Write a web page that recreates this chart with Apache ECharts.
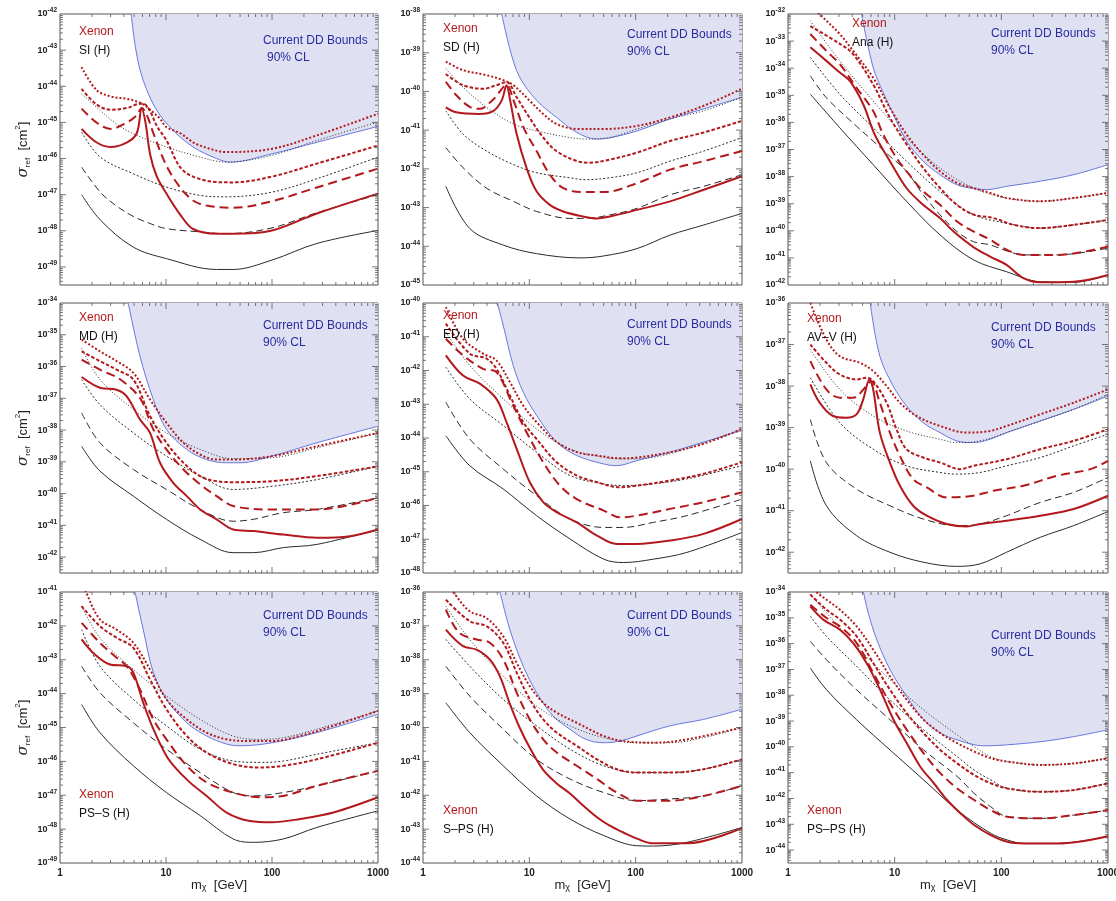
<!DOCTYPE html>
<html>
<head>
<meta charset="utf-8">
<script src="https://cdn.jsdelivr.net/npm/echarts@6/dist/echarts.min.js"></script>
<style>
  html, body { margin: 0; padding: 0; background: #fff; }
  #main { width: 1116px; height: 901px; }
</style>
</head>
<body>
<div id="main"></div>
<script>
// Xenon projected limits, 9 operators. points are [m_chi in GeV, log10 sigma_ref in cm^2]

// tick labels on the mass axis
const massTicks = [1, 10, 100, 1000];
const panelNames = ['SI (H)', 'SD (H)', 'Ana (H)', 'MD (H)', 'ED (H)', 'AV\u2013V (H)', 'PS\u2013S (H)', 'S\u2013PS (H)', 'PS\u2013PS (H)'];
// y range of each panel, in decades
const yLow = [-49.5, -45, -42, -42.5, -48, -42.5, -49, -44, -44.5];
const yHigh = [-42, -38, -32, -34, -40, -36, -41, -36, -34];

// ---- SI
const siRedDot = [[1.6,-43.47],[2.2,-44.1],[3,-44.28],[4.3,-44.35],[5.3,-44.42],[6.1,-44.5],[7.1,-44.65],[8.8,-44.9],[10.1,-45.13],[13.6,-45.3],[18,-45.55],[24,-45.7],[37,-45.82],[100,-45.73],[265,-45.36],[1000,-44.76]];
const siRedShort = [[1.6,-44.07],[2.2,-44.5],[3,-44.65],[4.3,-44.6],[5.3,-44.5],[6.1,-44.48],[7.1,-44.7],[8.2,-45.1],[10.1,-45.5],[13.6,-46.24],[18,-46.5],[30,-46.65],[43,-46.66],[100,-46.5],[265,-46.14],[1000,-45.64]];
const siRedLong = [[1.6,-44.62],[2.2,-45.0],[3,-45.18],[4.3,-45.0],[5.3,-44.8],[5.9,-44.6],[6.6,-44.8],[7.6,-45.3],[10.1,-46.2],[13.6,-46.8],[18,-47.16],[24,-47.3],[43,-47.36],[100,-47.18],[265,-46.8],[1000,-46.28]];
const siRedSolid = [[1.6,-45.18],[2.2,-45.55],[3,-45.68],[4.3,-45.55],[5.3,-45.3],[5.9,-44.6],[6.4,-45.0],[7.1,-45.9],[8.2,-46.5],[10.1,-46.97],[13.6,-47.55],[18,-47.95],[30,-48.08],[43,-48.08],[100,-47.99],[265,-47.52],[1000,-46.97]];
const siBlkFine = [[1.6,-44.21],[2.4,-44.67],[3.4,-45.04],[4.9,-45.31],[10.1,-45.68],[21,-45.96],[37,-46.1],[100,-45.91],[265,-45.5],[1000,-44.99]];
const siBlkDot = [[1.6,-45.27],[2.4,-45.96],[4.9,-46.42],[10.1,-46.79],[21,-47.02],[37,-47.06],[100,-46.93],[265,-46.56],[1000,-45.96]];
const siBlkDash = [[1.6,-46.24],[2.4,-46.93],[3.4,-47.31],[4.9,-47.6],[7.1,-47.8],[10.1,-47.94],[21,-48.03],[37,-48.08],[100,-47.92],[265,-47.5],[1000,-47.0]];
const siBlkSolid = [[1.6,-47.0],[2.4,-47.7],[4.9,-48.45],[10.1,-48.77],[30,-49.07],[43,-49.07],[100,-48.81],[265,-48.35],[1000,-47.99]];
const siBound = [[4.7,-42],[5.2,-43],[6.1,-43.84],[8.2,-44.67],[11.7,-45.22],[18,-45.68],[30,-46.0],[40,-46.1],[100,-45.87],[265,-45.55],[1000,-45.11]];

// ---- SD
const sdRedDot = [[1.64,-39.23],[2.38,-39.45],[3.96,-39.58],[5.7,-39.71],[7.1,-39.84],[10,-40.23],[13.5,-40.58],[18,-40.84],[28,-40.97],[50,-40.97],[103,-40.89],[211,-40.67],[437,-40.37],[1000,-39.93]];
const sdRedShort = [[1.64,-39.55],[2.38,-39.84],[3.7,-39.93],[4.9,-39.84],[6.1,-39.76],[7.6,-40.15],[10,-40.67],[13.5,-41.19],[18,-41.54],[28,-41.8],[37,-41.84],[57,-41.76],[103,-41.58],[211,-41.28],[437,-41.06],[1000,-40.76]];
const sdRedLong = [[1.64,-39.75],[2.06,-40.1],[2.75,-40.4],[3.4,-40.45],[4.6,-40.2],[6.1,-39.84],[7.1,-40.23],[8.8,-40.93],[11.7,-41.54],[15.6,-42.15],[20.9,-42.5],[32,-42.6],[50,-42.6],[103,-42.37],[211,-42.02],[437,-41.8],[1000,-41.54]];
const sdRedSolid = [[1.64,-40.41],[2.06,-40.54],[3.4,-40.58],[4.6,-40.5],[5.5,-40.23],[6.1,-39.84],[6.6,-40.23],[7.6,-41.1],[9.4,-41.97],[11.7,-42.58],[15.6,-42.93],[20.9,-43.1],[32,-43.23],[43,-43.28],[57,-43.23],[103,-43.06],[211,-42.84],[437,-42.54],[1000,-42.19]];
const sdBlkFine = [[1.64,-39.41],[2.38,-39.89],[3.96,-40.41],[7.1,-40.84],[11.7,-41.02],[24,-41.19],[34,-41.23],[57,-41.19],[103,-40.97],[211,-40.71],[437,-40.5],[1000,-40.15]];
const sdBlkDot = [[1.64,-40.5],[2.38,-41.1],[3.96,-41.54],[7.1,-41.89],[11.7,-42.1],[24,-42.23],[34,-42.28],[57,-42.23],[103,-42.1],[211,-41.8],[437,-41.54],[1000,-41.19]];
const sdBlkDash = [[1.64,-41.45],[2.38,-41.97],[3.96,-42.5],[7.1,-42.84],[11.7,-43.1],[24,-43.28],[34,-43.28],[57,-43.19],[103,-43.02],[211,-42.67],[437,-42.45],[1000,-42.15]];
const sdBlkSolid = [[1.64,-42.45],[2.75,-43.54],[5.7,-43.97],[11.7,-44.19],[30,-44.3],[50,-44.25],[103,-44.06],[211,-43.71],[437,-43.45],[1000,-43.15]];
const sdBound = [[5.5,-38],[6.6,-38.93],[8.1,-39.63],[11.7,-40.23],[18,-40.67],[28,-41.06],[43,-41.23],[57,-41.2],[103,-41.02],[211,-40.71],[437,-40.45],[1000,-40.15]];

// ---- Ana
const anaRedDot = [[1.62,-31.6],[1.98,-32.0],[3.06,-32.74],[4.08,-33.36],[6.29,-34.35],[9.02,-35.46],[12.9,-36.44],[18.5,-37.19],[26.6,-37.8],[38.2,-38.23],[54.7,-38.42],[78.5,-38.6],[112,-38.79],[232,-38.91],[476,-38.79],[1000,-38.6]];
const anaRedShort = [[1.62,-32.45],[3.06,-33.1],[4.08,-33.48],[6.29,-34.6],[9.02,-35.83],[12.9,-36.8],[18.5,-37.68],[26.6,-38.42],[38.2,-39.04],[54.7,-39.4],[84.4,-39.53],[130,-39.78],[232,-39.9],[476,-39.78],[1000,-39.6]];
const anaRedLong = [[1.62,-32.74],[2.29,-33.36],[3.06,-33.85],[4.39,-34.72],[6.29,-35.58],[7.8,-36.44],[10.4,-37.31],[12.9,-37.8],[18.5,-38.54],[26.6,-39.04],[38.2,-39.65],[54.7,-40.02],[78.5,-40.33],[112,-40.7],[161,-40.89],[332,-40.89],[1000,-40.58]];
const anaRedSolid = [[1.62,-33.23],[2.29,-33.73],[3.06,-34.16],[3.8,-34.47],[5.07,-35.33],[6.29,-36.32],[7.26,-36.81],[9.02,-37.43],[12.9,-38.42],[18.5,-39.04],[26.6,-39.53],[35.5,-40.02],[54.7,-40.6],[78.5,-40.95],[112,-41.26],[161,-41.75],[232,-41.9],[476,-41.88],[1000,-41.63]];
const anaBlkFine = [[1.62,-32.25],[3.06,-33.73],[6.29,-35.21],[12.9,-36.57],[26.6,-37.68],[54.7,-38.42],[112,-38.79],[232,-38.91],[476,-38.79],[1000,-38.6]];
const anaBlkDot = [[1.62,-33.6],[3.06,-34.96],[6.29,-36.2],[12.9,-37.43],[26.6,-38.54],[54.7,-39.4],[112,-39.72],[232,-39.9],[476,-39.78],[1000,-39.6]];
const anaBlkDash = [[1.62,-34.28],[2.29,-35.09],[4.39,-36.14],[6.29,-36.69],[9.02,-37.25],[12.9,-37.8],[18.5,-38.67],[26.6,-39.41],[38.2,-40.02],[54.7,-40.4],[78.5,-40.52],[112,-40.74],[161,-40.89],[332,-40.89],[1000,-40.64]];
const anaBlkSolid = [[1.62,-34.96],[3.06,-36.2],[6.29,-37.56],[12.9,-38.91],[26.6,-40.15],[54.7,-41.07],[112,-41.51],[232,-41.88],[476,-41.9],[1000,-41.63]];
const anaBound = [[4.89,-32],[6.29,-33.98],[7.8,-34.9],[9.7,-35.7],[12.9,-36.69],[18.5,-37.43],[26.6,-37.93],[38.2,-38.3],[54.7,-38.44],[73,-38.48],[112,-38.36],[232,-38.17],[476,-37.93],[1000,-37.56]];

// ---- MD
const mdRedDot = [[1.6,-35.15],[2.38,-35.52],[3.42,-35.83],[4.92,-36.2],[7.07,-37.04],[10.1,-37.77],[14.6,-38.4],[21,-38.77],[30,-38.93],[43,-38.93],[100,-38.82],[265,-38.51],[1000,-38.09]];
const mdRedShort = [[1.6,-35.52],[2.38,-35.83],[3.42,-36.1],[4.92,-36.41],[7.07,-37.56],[10.1,-38.4],[14.6,-39.03],[21,-39.45],[30,-39.61],[43,-39.64],[100,-39.61],[265,-39.45],[1000,-39.14]];
const mdRedLong = [[1.6,-35.78],[2.38,-36.1],[3.68,-36.4],[5.69,-37.0],[7.6,-37.98],[10.1,-38.61],[14.6,-39.24],[21,-39.71],[30,-40.08],[43,-40.39],[100,-40.5],[265,-40.5],[1000,-40.13]];
const mdRedSolid = [[1.6,-36.33],[2.38,-36.67],[3.42,-36.73],[4.26,-36.94],[5.69,-37.67],[7.07,-38.09],[8.78,-39.03],[11.7,-39.66],[15.7,-40.08],[21,-40.5],[30,-40.81],[43,-41.13],[66.7,-41.18],[128,-41.29],[265,-41.39],[545,-41.34],[1000,-41.13]];
const mdBlkFine = [[1.6,-35.42],[2.38,-36.41],[4.92,-37.35],[10.1,-38.09],[21,-38.61],[43,-38.9],[100,-38.87],[265,-38.56],[1000,-38.09]];
const mdBlkDot = [[1.6,-36.41],[2.38,-37.2],[4.92,-38.09],[10.1,-38.82],[21,-39.45],[43,-39.87],[100,-39.77],[265,-39.56],[1000,-39.14]];
const mdBlkDash = [[1.6,-37.46],[2.38,-38.4],[4.92,-39.24],[10.1,-39.87],[21,-40.5],[43,-40.87],[66.7,-40.81],[128,-40.6],[265,-40.5],[1000,-40.13]];
const mdBlkSolid = [[1.6,-38.51],[2.38,-39.29],[4.92,-40.08],[10.1,-40.81],[21,-41.44],[43,-41.86],[66.7,-41.86],[128,-41.7],[265,-41.6],[1000,-41.13]];
const mdBound = [[4.4,-34],[5.69,-35.68],[7.6,-37.04],[10.1,-37.98],[15.7,-38.61],[24.2,-38.93],[37.3,-39.03],[49.9,-39.03],[100,-38.82],[265,-38.4],[1000,-37.88]];

// ---- ED
const edRedDot = [[1.64,-40.12],[2.38,-41.06],[3.67,-41.5],[4.9,-41.7],[6.56,-42.34],[8.76,-43.04],[11.7,-43.53],[18.1,-44.12],[27.9,-44.42],[43.3,-44.52],[71.2,-44.6],[102.5,-44.58],[211,-44.42],[436,-44.17],[1000,-43.73]];
const edRedShort = [[1.64,-40.61],[2.75,-41.5],[3.96,-41.65],[4.9,-41.95],[6.56,-42.74],[8.76,-43.53],[11.7,-44.03],[18.1,-44.72],[27.9,-45.11],[43.3,-45.31],[71.2,-45.46],[102.5,-45.41],[211,-45.26],[436,-45.06],[1000,-44.72]];
const edRedLong = [[1.64,-41.06],[2.38,-41.55],[3.67,-41.95],[4.9,-42.05],[7.05,-43.04],[9.42,-43.83],[13.5,-44.72],[19.4,-45.41],[27.9,-45.81],[50.1,-46.15],[71.2,-46.35],[102.5,-46.3],[211,-46.1],[436,-45.9],[1000,-45.61]];
const edRedSolid = [[1.64,-41.55],[2.38,-42.15],[3.42,-42.39],[4.9,-42.84],[6.1,-43.53],[7.6,-44.32],[10.1,-45.31],[13.5,-45.9],[18.1,-46.2],[27.9,-46.5],[43.3,-46.89],[66.3,-47.14],[102.5,-47.14],[211,-47.04],[436,-46.84],[1000,-46.4]];
const edBlkFine = [[1.64,-40.86],[2.75,-41.85],[5.68,-42.84],[11.7,-43.73],[24.1,-44.32],[50.1,-44.57],[76.6,-44.62],[147,-44.57],[303,-44.32],[1000,-43.73]];
const edBlkDot = [[1.64,-41.9],[2.75,-42.84],[5.68,-43.63],[11.7,-44.42],[24.1,-45.11],[50.1,-45.36],[76.6,-45.41],[147,-45.36],[303,-45.21],[1000,-44.82]];
const edBlkDash = [[1.64,-42.94],[2.75,-44.03],[5.68,-44.92],[11.7,-45.71],[24.1,-46.4],[50.1,-46.65],[76.6,-46.65],[147,-46.5],[303,-46.3],[1000,-45.81]];
const edBlkSolid = [[1.64,-43.93],[2.75,-44.82],[5.68,-45.51],[11.7,-46.3],[24.1,-46.99],[50.1,-47.59],[76.6,-47.69],[147,-47.59],[303,-47.39],[1000,-46.8]];
const edBound = [[5.0,-40],[5.68,-40.66],[7.05,-41.85],[8.76,-42.64],[11.7,-43.33],[18.1,-44.12],[27.9,-44.52],[50.1,-44.77],[66.3,-44.82],[102.5,-44.67],[211,-44.42],[436,-44.12],[1000,-43.78]];

// ---- AV-V
const avRedDot = [[1.62,-36.0],[2.29,-36.88],[3.06,-37.28],[4.71,-37.44],[6.29,-37.64],[8.4,-38.0],[11.2,-38.4],[16,-38.72],[26.6,-38.96],[47.4,-39.12],[78.5,-39.08],[112,-38.96],[232,-38.68],[476,-38.4],[1000,-38.08]];
const avRedShort = [[1.62,-37.0],[2.29,-37.44],[3.06,-37.72],[4.39,-37.84],[5.44,-37.8],[6.29,-37.88],[8.4,-38.4],[10.4,-39.04],[12.9,-39.52],[18.5,-39.72],[26.6,-39.84],[41,-40.0],[54.7,-39.92],[112,-39.76],[232,-39.52],[476,-39.32],[1000,-39.04]];
const avRedLong = [[1.62,-37.4],[2.29,-38.08],[3.06,-38.28],[4.08,-38.28],[5.44,-38.0],[6.0,-37.88],[7.26,-38.4],[9.02,-39.12],[11.2,-39.68],[14.9,-40.24],[20,-40.44],[30.7,-40.68],[54.7,-40.64],[84.4,-40.52],[161,-40.4],[332,-40.16],[683,-40.0],[1000,-39.8]];
const avRedSolid = [[1.62,-37.96],[1.98,-38.4],[2.64,-38.72],[3.5,-38.76],[4.39,-38.68],[5.07,-38.32],[5.8,-37.84],[6.29,-38.08],[7.26,-39.12],[9.02,-39.84],[11.2,-40.4],[14.9,-40.88],[20,-41.12],[30.7,-41.32],[47.4,-41.38],[63.1,-41.32],[112,-41.24],[232,-41.12],[476,-40.96],[1000,-40.64]];
const avBlkFine = [[1.62,-37.12],[3.06,-38.08],[6.29,-38.72],[12.9,-39.08],[26.6,-39.28],[38.2,-39.36],[63.1,-39.32],[112,-39.12],[232,-38.84],[476,-38.56],[1000,-38.2]];
const avBlkDot = [[1.62,-37.8],[3.06,-38.88],[6.29,-39.52],[12.9,-39.92],[26.6,-40.08],[38.2,-40.12],[63.1,-40.08],[112,-39.92],[232,-39.72],[476,-39.44],[1000,-39.16]];
const avBlkDash = [[1.62,-38.8],[2.29,-39.84],[4.39,-40.48],[9.02,-40.88],[18.5,-41.2],[38.2,-41.36],[63.1,-41.32],[112,-41.12],[232,-40.8],[476,-40.56],[1000,-40.2]];
const avBlkSolid = [[1.62,-39.8],[2.29,-40.88],[4.39,-41.6],[9.02,-42.0],[18.5,-42.24],[38.2,-42.34],[63.1,-42.28],[112,-42.0],[232,-41.64],[476,-41.36],[1000,-41.02]];
const avBound = [[5.9,-36],[7.26,-37.28],[9.7,-38.0],[12.9,-38.48],[18.5,-38.88],[26.6,-39.12],[38.2,-39.32],[54.7,-39.36],[78.5,-39.28],[112,-39.12],[232,-38.84],[476,-38.56],[1000,-38.24]];

// ---- PS-S
const psRedDot = [[1.6,-40.6],[1.76,-41.0],[2.38,-41.81],[3.42,-42.11],[4.92,-42.5],[7.07,-43.29],[10.1,-44.17],[15.7,-44.76],[24.2,-45.15],[37.3,-45.35],[62,-45.4],[100,-45.4],[184,-45.25],[380,-44.95],[1000,-44.51]];
const psRedShort = [[1.6,-41.42],[2.38,-42.01],[3.42,-42.35],[4.92,-42.65],[7.07,-43.58],[10.1,-44.46],[15.7,-45.25],[24.2,-45.74],[43,-46.08],[77,-46.18],[128,-46.13],[265,-45.94],[1000,-45.45]];
const psRedLong = [[1.6,-41.91],[2.38,-42.5],[3.42,-42.94],[4.26,-43.19],[5.69,-43.88],[7.6,-44.76],[10.1,-45.35],[15.7,-46.13],[24.2,-46.62],[43,-46.92],[77,-47.06],[128,-47.02],[265,-46.72],[1000,-46.28]];
const psRedSolid = [[1.6,-42.4],[2.06,-42.8],[2.96,-43.14],[4.26,-43.19],[4.92,-43.38],[6.1,-44.27],[7.6,-45.05],[10.1,-45.84],[12.6,-46.23],[16.8,-46.62],[24.2,-47.02],[37.3,-47.51],[62,-47.76],[100,-47.8],[184,-47.7],[380,-47.51],[1000,-47.06]];
const psBlkFine = [[1.6,-41.42],[2.38,-42.35],[4.92,-43.29],[10.1,-44.07],[21,-44.76],[43,-45.25],[77,-45.35],[128,-45.3],[265,-45.05],[1000,-44.51]];
const psBlkDot = [[1.6,-42.11],[2.38,-43.19],[4.92,-44.17],[10.1,-44.95],[21,-45.64],[43,-45.99],[77,-46.03],[128,-45.99],[265,-45.79],[1000,-45.45]];
const psBlkDash = [[1.6,-43.19],[2.38,-43.97],[4.92,-44.86],[10.1,-45.64],[21,-46.33],[43,-46.92],[66.7,-47.02],[128,-46.92],[265,-46.72],[1000,-46.28]];
const psBlkSolid = [[1.6,-44.32],[2.38,-45.15],[4.92,-46.13],[10.1,-46.92],[21,-47.6],[43,-48.29],[66.7,-48.39],[128,-48.29],[265,-47.95],[1000,-47.46]];
const psBound = [[5.1,-41],[6.1,-42.11],[7.6,-43.38],[10.1,-44.17],[15.7,-44.86],[24.2,-45.25],[37.3,-45.49],[49.9,-45.54],[100,-45.45],[265,-45.15],[1000,-44.61]];

// ---- S-PS
const spRedDot = [[1.75,-35.8],[1.92,-36.0],[2.75,-36.57],[3.96,-36.77],[5.68,-37.31],[7.6,-38.09],[10.1,-38.78],[13.5,-39.27],[18.1,-39.56],[27.9,-39.86],[50.1,-40.25],[76.6,-40.4],[147,-40.45],[303,-40.35],[1000,-40.0]];
const spRedShort = [[1.64,-36.23],[2.75,-36.86],[3.96,-37.01],[5.68,-37.5],[7.6,-38.38],[10.1,-39.17],[13.5,-39.76],[18.1,-40.15],[27.9,-40.54],[43.3,-40.94],[66.3,-41.23],[102.5,-41.33],[211,-41.33],[436,-41.23],[1000,-40.94]];
const spRedLong = [[1.64,-36.52],[2.2,-37.21],[3.18,-37.4],[4.25,-37.5],[5.68,-37.99],[7.6,-38.97],[10.1,-39.76],[13.5,-40.35],[18.1,-40.74],[27.9,-41.13],[43.3,-41.52],[66.3,-41.92],[102.5,-42.16],[211,-42.16],[436,-42.02],[1000,-41.72]];
const spRedSolid = [[1.64,-37.11],[2.38,-37.6],[3.18,-37.7],[4.25,-37.99],[5.3,-38.5],[6.56,-39.3],[8.1,-40.0],[10.1,-40.6],[13.5,-41.25],[18.1,-41.65],[24.1,-41.95],[32,-42.3],[43.3,-42.65],[57,-42.9],[76.6,-43.1],[102.5,-43.28],[147,-43.42],[303,-43.42],[1000,-42.97]];
const spBlkFine = [[1.64,-36.42],[2.75,-37.4],[5.68,-38.48],[11.7,-39.37],[24.1,-39.95],[50.1,-40.3],[102.5,-40.45],[211,-40.45],[436,-40.3],[1000,-40.0]];
const spBlkDot = [[1.64,-37.4],[2.75,-38.19],[5.68,-39.17],[11.7,-39.95],[24.1,-40.64],[50.1,-41.13],[102.5,-41.33],[211,-41.33],[436,-41.23],[1000,-40.94]];
const spBlkDash = [[1.64,-38.19],[2.75,-39.07],[5.68,-40.05],[11.7,-40.94],[24.1,-41.52],[50.1,-41.92],[102.5,-42.16],[211,-42.11],[436,-42.02],[1000,-41.72]];
const spBlkSolid = [[1.64,-39.27],[2.75,-40.15],[5.68,-41.13],[11.7,-42.02],[24.1,-42.7],[50.1,-43.19],[102.5,-43.49],[147,-43.5],[303,-43.39],[1000,-42.95]];
const spBound = [[5.3,-36],[6.56,-37.11],[8.76,-38.19],[11.7,-38.97],[16.7,-39.66],[24.1,-40.05],[34,-40.35],[50.1,-40.45],[71.2,-40.4],[102.5,-40.25],[211,-39.95],[436,-39.76],[1000,-39.46]];

// ---- PS-PS
const ppRedDot = [[1.62,-33.6],[1.85,-34.0],[2.3,-34.3],[3.07,-34.69],[4.4,-35.33],[6.31,-36.24],[9.05,-37.27],[13,-38.18],[18.7,-38.95],[26.8,-39.47],[38.6,-39.86],[55.6,-40.18],[79.5,-40.44],[114,-40.57],[235,-40.7],[484,-40.64],[1000,-40.44]];
const ppRedShort = [[1.62,-34.1],[2.3,-34.69],[3.07,-35.07],[4.4,-35.72],[6.31,-36.76],[9.05,-37.79],[13,-38.7],[18.7,-39.47],[26.8,-40.12],[38.6,-40.64],[55.6,-41.09],[79.5,-41.41],[114,-41.61],[235,-41.74],[484,-41.67],[1000,-41.41]];
const ppRedLong = [[1.62,-34.49],[2.3,-35.01],[3.07,-35.33],[4.4,-35.98],[6.31,-37.14],[9.05,-38.31],[13,-39.34],[18.7,-40.25],[26.8,-41.02],[38.6,-41.61],[55.6,-42.06],[79.5,-42.45],[114,-42.71],[235,-42.77],[484,-42.64],[1000,-42.45]];
const ppRedSolid = [[1.62,-34.56],[2.14,-35.07],[3.07,-35.46],[4.09,-35.98],[5.47,-36.76],[7.3,-37.79],[9.75,-38.95],[13,-39.86],[17.4,-40.77],[23.3,-41.41],[31,-42.06],[41.5,-42.58],[55.6,-43.03],[79.5,-43.42],[114,-43.68],[163,-43.74],[336,-43.74],[1000,-43.46]];
const ppBlkFine = [[1.62,-34.1],[2.3,-34.81],[4.4,-36.11],[9.05,-37.4],[18.7,-38.57],[38.6,-39.54],[55.6,-39.99],[79.5,-40.38],[114,-40.57],[235,-40.7],[484,-40.64],[1000,-40.44]];
const ppBlkDot = [[1.62,-34.94],[2.3,-35.72],[4.4,-36.88],[9.05,-38.18],[18.7,-39.34],[38.6,-40.38],[55.6,-40.9],[79.5,-41.28],[114,-41.61],[235,-41.74],[484,-41.67],[1000,-41.41]];
const ppBlkDash = [[1.62,-35.91],[2.3,-36.63],[4.4,-37.79],[9.05,-38.95],[18.7,-40.12],[38.6,-41.15],[55.6,-41.8],[79.5,-42.32],[114,-42.71],[235,-42.77],[484,-42.64],[1000,-42.45]];
const ppBlkSolid = [[1.62,-36.95],[2.3,-37.79],[4.4,-38.95],[9.05,-40.12],[18.7,-41.28],[38.6,-42.45],[79.5,-43.35],[114,-43.61],[163,-43.74],[336,-43.74],[1000,-43.46]];
const ppBound = [[5.1,-34],[5.66,-34.82],[6.8,-35.85],[9.05,-37.01],[13,-38.05],[18.7,-38.95],[26.8,-39.47],[38.6,-39.73],[55.6,-39.92],[73.9,-39.96],[114,-39.92],[235,-39.8],[484,-39.6],[1000,-39.34]];

const panelCurves = [
  [siBlkSolid, siBlkDash, siBlkDot, siBlkFine, siRedSolid, siRedLong, siRedShort, siRedDot],
  [sdBlkSolid, sdBlkDash, sdBlkDot, sdBlkFine, sdRedSolid, sdRedLong, sdRedShort, sdRedDot],
  [anaBlkSolid, anaBlkDash, anaBlkDot, anaBlkFine, anaRedSolid, anaRedLong, anaRedShort, anaRedDot],
  [mdBlkSolid, mdBlkDash, mdBlkDot, mdBlkFine, mdRedSolid, mdRedLong, mdRedShort, mdRedDot],
  [edBlkSolid, edBlkDash, edBlkDot, edBlkFine, edRedSolid, edRedLong, edRedShort, edRedDot],
  [avBlkSolid, avBlkDash, avBlkDot, avBlkFine, avRedSolid, avRedLong, avRedShort, avRedDot],
  [psBlkSolid, psBlkDash, psBlkDot, psBlkFine, psRedSolid, psRedLong, psRedShort, psRedDot],
  [spBlkSolid, spBlkDash, spBlkDot, spBlkFine, spRedSolid, spRedLong, spRedShort, spRedDot],
  [ppBlkSolid, ppBlkDash, ppBlkDot, ppBlkFine, ppRedSolid, ppRedLong, ppRedShort, ppRedDot]
];
const panelBounds = [siBound, sdBound, anaBound, mdBound, edBound, avBound, psBound, spBound, ppBound];

const RED = '#b3191c';
const BLK = '#2a2a2a';
const curveStyles = [
  { color: BLK, width: 1 },
  { color: BLK, width: 1, type: [7, 4] },
  { color: BLK, width: 1, type: [2, 2] },
  { color: BLK, width: 1, type: [1, 2] },
  { color: RED, width: 2 },
  { color: RED, width: 2, type: [9, 5] },
  { color: RED, width: 2, type: [3.5, 2] },
  { color: RED, width: 2, type: [2, 2] }
];

// layout
const colLeft = [60, 423, 788];
const colWidth = [318, 319, 320];
const rowTop = [14, 303, 592];
const rowHeight = [271, 270, 271];

// label spots: [xenonX, xenonY, ddX, ddY]
const notePos = [
  [79, 33, 263, 42], [443, 30, 627, 36], [852, 25, 991, 35],
  [79, 319, 263, 327], [443, 317, 627, 326], [807, 320, 991, 329],
  [79, 796, 263, 617], [443, 812, 627, 617], [807, 812, 991, 637]
];

const toXY = arr => arr.map(p => [Math.log10(p[0]), p[1]]);

function tickData(lo, hi) {
  const d = [];
  for (let e = 0; e < 3; e++) {
    for (let k = 1; k < 10; k++) {
      const v = e + Math.log10(k);
      if (v > 0.001 && v < 2.999) d.push([v, lo, 0, k === 1 ? 1 : 0]);
    }
  }
  for (let e = Math.floor(lo); e < hi; e++) {
    for (let k = 1; k < 10; k++) {
      const v = e + Math.log10(k);
      if (v > lo + 0.001 && v < hi - 0.001) d.push([0, v, 1, k === 1 ? 1 : 0]);
    }
  }
  return d;
}

function renderTick(params, api) {
  const cs = params.coordSys;
  const p = api.coord([api.value(0), api.value(1)]);
  const len = api.value(3) ? 6 : 3;
  const st = { stroke: '#555', lineWidth: 0.8 };
  if (api.value(2) === 0) {
    return { type: 'group', children: [
      { type: 'line', shape: { x1: p[0], y1: cs.y + cs.height, x2: p[0], y2: cs.y + cs.height - len }, style: st },
      { type: 'line', shape: { x1: p[0], y1: cs.y, x2: p[0], y2: cs.y + len }, style: st }
    ] };
  }
  return { type: 'group', children: [
    { type: 'line', shape: { x1: cs.x, y1: p[1], x2: cs.x + len, y2: p[1] }, style: st },
    { type: 'line', shape: { x1: cs.x + cs.width, y1: p[1], x2: cs.x + cs.width - len, y2: p[1] }, style: st }
  ] };
}

const grids = [], xAxes = [], yAxes = [], series = [], graphics = [];
const FONT = 'Liberation Sans, Arial, Helvetica, sans-serif';

for (let i = 0; i < 9; i++) {
  const r = Math.floor(i / 3), c = i % 3;
  grids.push({
    left: colLeft[c], top: rowTop[r], width: colWidth[c], height: rowHeight[r],
    show: true, borderColor: '#555', borderWidth: 1,
    containLabel: false, outerBoundsMode: 'none'
  });
  xAxes.push({
    gridIndex: i, type: 'value', min: 0, max: 3, interval: 1,
    axisLine: { show: false }, axisTick: { show: false }, splitLine: { show: false },
    axisLabel: {
      show: r === 2, margin: 5, color: '#222', fontFamily: FONT, fontWeight: 'bold', fontSize: 10,
      formatter: v => String(massTicks[Math.round(v)])
    },
    name: r === 2 ? 'm{s|\u03c7}  [GeV]' : '',
    nameLocation: 'middle', nameGap: 15,
    nameTextStyle: { fontFamily: FONT, fontSize: 13, color: '#222',
      rich: { s: { fontSize: 9, fontFamily: FONT, color: '#222', verticalAlign: 'bottom' } } }
  });
  yAxes.push({
    gridIndex: i, type: 'value', min: yLow[i], max: yHigh[i], minInterval: 1, maxInterval: 1,
    axisLine: { show: false }, axisTick: { show: false }, splitLine: { show: false },
    axisLabel: {
      margin: 3, fontFamily: FONT,
      formatter: v => Math.abs(v - Math.round(v)) < 1e-6 ? '{b|10}{s|' + Math.round(v) + '}' : '',
      rich: {
        b: { fontSize: 9, fontWeight: 'bold', color: '#222', fontFamily: FONT, lineHeight: 14 },
        s: { fontSize: 6.5, fontWeight: 'bold', color: '#222', fontFamily: FONT, verticalAlign: 'top' }
      }
    },
    name: c === 0 ? '{a|\u03c3}{b|ref}  [cm{c|2}]' : '',
    nameLocation: 'middle', nameGap: 28, nameRotate: 90,
    nameTextStyle: { fontFamily: FONT, fontSize: 13, color: '#222',
      rich: {
        a: { fontSize: 15, fontStyle: 'italic', fontFamily: 'DejaVu Serif, serif', color: '#222', lineHeight: 18 },
        b: { fontSize: 8, fontFamily: FONT, color: '#222', verticalAlign: 'bottom' },
        c: { fontSize: 8, fontFamily: FONT, color: '#222', verticalAlign: 'top' }
      } }
  });

  series.push({
    type: 'line', xAxisIndex: i, yAxisIndex: i, data: toXY(panelBounds[i]),
    symbol: 'none', smooth: 0.35, silent: true, z: 1,
    lineStyle: { color: '#6677dd', width: 1 },
    areaStyle: { color: '#dfe1f3', opacity: 1, origin: 'end' }
  });
  panelCurves[i].forEach((cv, k) => {
    series.push({
      type: 'line', xAxisIndex: i, yAxisIndex: i, data: toXY(cv),
      symbol: 'none', smooth: 0.35, silent: true, z: k < 4 ? 2 : 3,
      lineStyle: curveStyles[k]
    });
  });
  series.push({
    type: 'custom', xAxisIndex: i, yAxisIndex: i, data: tickData(yLow[i], yHigh[i]),
    encode: { x: 0, y: 1 }, renderItem: renderTick, silent: true, z: 5
  });

  const np = notePos[i];
  graphics.push(
    { type: 'text', z: 100, x: np[0], y: np[1] - 7, style: { text: 'Xenon', fill: RED, font: '12px ' + FONT } },
    { type: 'text', z: 100, x: np[0], y: np[1] + 12, style: { text: panelNames[i], fill: '#111', font: '12px ' + FONT } },
    { type: 'text', z: 100, x: np[2], y: np[3] - 7, style: { text: 'Current DD Bounds', fill: '#2a2aa0', font: '12px ' + FONT } },
    { type: 'text', z: 100, x: np[2] + (i === 0 ? 4 : 0), y: np[3] + 10, style: { text: '90% CL', fill: '#2a2aa0', font: '12px ' + FONT } }
  );
}

const chart = echarts.init(document.getElementById('main'), null, { renderer: 'canvas' });
chart.setOption({
  backgroundColor: '#fff',
  animation: false,
  grid: grids,
  xAxis: xAxes,
  yAxis: yAxes,
  series: series,
  graphic: graphics
});
</script>
</body>
</html>
